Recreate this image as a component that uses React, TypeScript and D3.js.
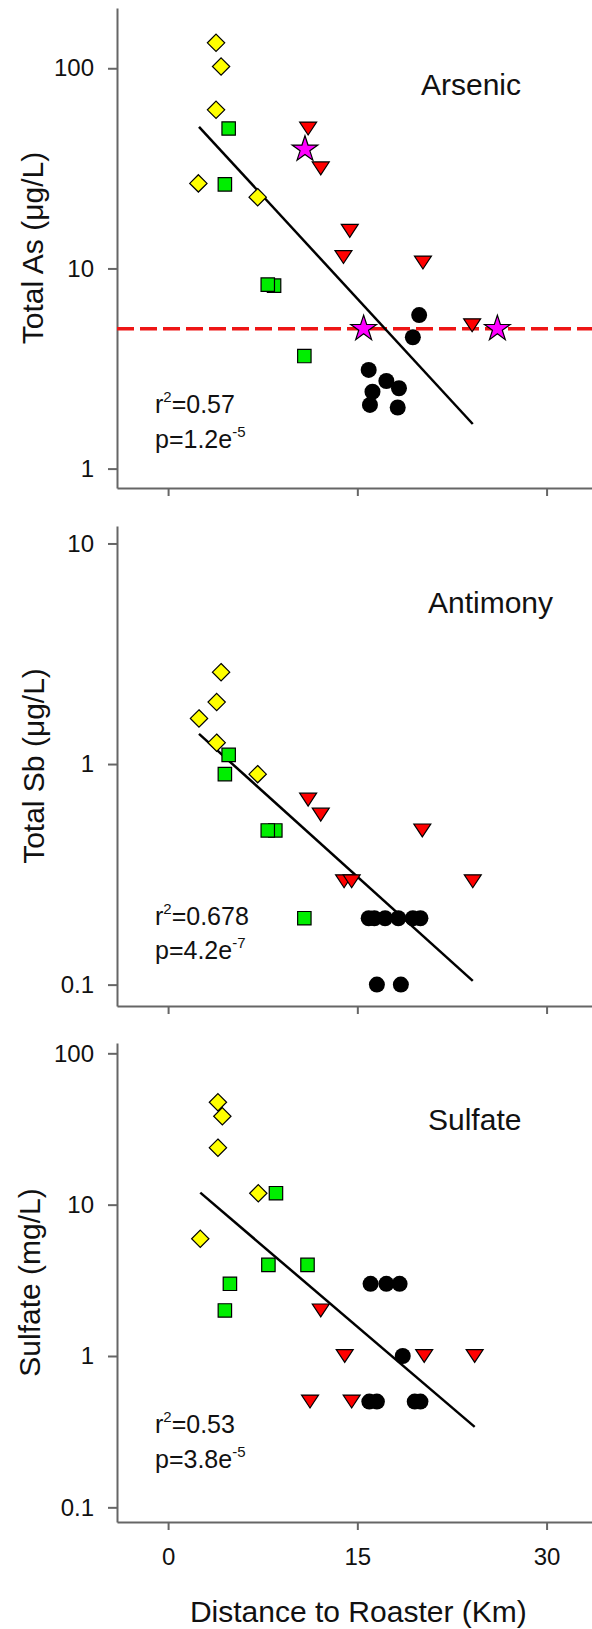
import React, { useRef, useEffect } from "react";
import * as d3 from "d3";

const WIDTH = 592;
const HEIGHT = 1629;
const FONT = "'Liberation Sans', Arial, Helvetica, sans-serif";

// [distance to roaster (km), concentration]
const arsenicYellow = [[3.8, 134], [4.2, 102], [3.8, 62], [2.4, 26.6], [7.1, 22.7]];
const arsenicGreen = [[4.8, 50], [4.5, 26.3], [8.4, 8.2], [7.9, 8.3], [10.8, 3.65]];
const arsenicRed = [[11.1, 50], [12.1, 31.6], [14.4, 15.4], [13.9, 11.4], [20.2, 10.7], [24.1, 5.2]];
const arsenicMagenta = [[10.85, 39.4], [15.5, 5], [26.1, 5]];
const arsenicBlack = [[19.9, 5.85], [19.4, 4.53], [15.9, 3.11], [17.3, 2.74], [16.2, 2.42], [18.3, 2.52], [16.0, 2.08], [18.2, 2.02]];
const arsenicFit = [[2.45, 51], [24.15, 1.67]];
const arsenicLimit = 5;
const arsenicTicks = [1, 10, 100];

const antimonyYellow = [[4.2, 2.61], [3.85, 1.91], [2.45, 1.61], [3.85, 1.25], [7.1, 0.9]];
const antimonyGreen = [[4.8, 1.1], [4.5, 0.9], [8.5, 0.5], [7.9, 0.5], [10.8, 0.2]];
const antimonyRed = [[11.1, 0.69], [12.1, 0.59], [20.15, 0.5], [13.95, 0.294], [14.55, 0.294], [24.15, 0.294]];
const antimonyBlack = [[15.9, 0.2], [16.35, 0.2], [17.2, 0.2], [18.25, 0.2], [19.4, 0.2], [20.0, 0.2], [16.55, 0.1], [18.45, 0.1]];
const antimonyFit = [[2.45, 1.37], [24.15, 0.104]];
const antimonyTicks = [0.1, 1, 10];

const sulfateYellow = [[3.95, 47.5], [4.3, 38.4], [3.95, 23.8], [7.15, 11.9], [2.55, 5.95]];
const sulfateGreen = [[8.55, 11.9], [7.95, 4], [11.05, 4], [4.9, 3], [4.5, 2]];
const sulfateRed = [[12.1, 2], [14.0, 1], [20.3, 1], [24.3, 1], [11.25, 0.5], [14.55, 0.5]];
const sulfateBlack = [[16.05, 3], [17.3, 3], [18.35, 3], [18.6, 1], [15.95, 0.5], [16.55, 0.5], [19.55, 0.5], [20.0, 0.5]];
const sulfateFit = [[2.55, 12], [24.3, 0.34]];
const sulfateTicks = [0.1, 1, 10, 100];

const xTicks = [0, 15, 30];

// custom marker shapes for d3.symbol
const diamondShape = {
  draw(c, s) {
    const r = Math.sqrt(s);
    c.moveTo(0, -r);
    c.lineTo(r, 0);
    c.lineTo(0, r);
    c.lineTo(-r, 0);
    c.closePath();
  },
};
const triangleDown = {
  draw(c, s) {
    const w = Math.sqrt(s);
    const h = w * 0.76;
    c.moveTo(-w, -h);
    c.lineTo(w, -h);
    c.lineTo(0, h);
    c.closePath();
  },
};

const panels = [
  {
    top: 8, bottom: 488, domain: [0.8, 200], ticks: arsenicTicks,
    yTitle: "Total As (\u03bcg/L)", titleX: 43, name: "Arsenic", nameX: 421,
    r2: "=0.57", pBase: "p=1.2e", pExp: "-5", r2y: 413, py: 448,
    yellow: arsenicYellow, green: arsenicGreen, red: arsenicRed, black: arsenicBlack,
    magenta: arsenicMagenta, fit: arsenicFit, limit: arsenicLimit, xLabels: false,
  },
  {
    top: 526, bottom: 1006, domain: [0.08, 12], ticks: antimonyTicks,
    yTitle: "Total Sb (\u03bcg/L)", titleX: 44, name: "Antimony", nameX: 428,
    r2: "=0.678", pBase: "p=4.2e", pExp: "-7", r2y: 925, py: 959,
    yellow: antimonyYellow, green: antimonyGreen, red: antimonyRed, black: antimonyBlack,
    magenta: [], fit: antimonyFit, limit: null, xLabels: false,
  },
  {
    top: 1043, bottom: 1522, domain: [0.08, 117], ticks: sulfateTicks,
    yTitle: "Sulfate (mg/L)", titleX: 40, name: "Sulfate", nameX: 428,
    r2: "=0.53", pBase: "p=3.8e", pExp: "-5", r2y: 1433, py: 1468,
    yellow: sulfateYellow, green: sulfateGreen, red: sulfateRed, black: sulfateBlack,
    magenta: [], fit: sulfateFit, limit: null, xLabels: true,
  },
];

const x = d3.scaleLinear().domain([-4.05, 33.6]).range([117, WIDTH]);

function drawPanel(svg, p) {
  const y = d3.scaleLog().domain(p.domain).range([p.bottom, p.top]);
  const g = svg.append("g");

  const yAxis = g
    .append("g")
    .attr("transform", `translate(${x.range()[0]},0)`)
    .call(
      d3.axisLeft(y).tickValues(p.ticks).tickFormat((d) => String(d))
        .tickSize(9).tickSizeOuter(0).tickPadding(14)
    );
  const xAxis = g
    .append("g")
    .attr("transform", `translate(0,${p.bottom})`)
    .call(
      d3.axisBottom(x).tickValues(xTicks).tickFormat((d) => (p.xLabels ? String(d) : ""))
        .tickSize(8).tickSizeOuter(0).tickPadding(18)
    );
  [yAxis, xAxis].forEach((a) => {
    a.attr("font-family", FONT).attr("font-size", 24);
    a.selectAll(".domain, .tick line").attr("stroke", "#666").attr("stroke-width", 2);
    a.selectAll(".tick text").attr("fill", "#111");
  });

  g.append("text")
    .attr("transform", `translate(${p.titleX},${(p.top + p.bottom) / 2}) rotate(-90)`)
    .attr("text-anchor", "middle")
    .attr("font-family", FONT)
    .attr("font-size", 30)
    .attr("fill", "#111")
    .text(p.yTitle);

  g.append("text")
    .attr("x", p.nameX)
    .attr("y", p.top + 87)
    .attr("font-family", FONT)
    .attr("font-size", 30)
    .attr("fill", "#111")
    .text(p.name);

  const r2 = g.append("text").attr("x", 155).attr("y", p.r2y)
    .attr("font-family", FONT).attr("font-size", 25).attr("fill", "#111");
  r2.append("tspan").text("r");
  r2.append("tspan").attr("font-size", 15).attr("dy", -11).text("2");
  r2.append("tspan").attr("dy", 11).text(p.r2);

  const pv = g.append("text").attr("x", 155).attr("y", p.py)
    .attr("font-family", FONT).attr("font-size", 25).attr("fill", "#111");
  pv.append("tspan").text(p.pBase);
  pv.append("tspan").attr("font-size", 15).attr("dy", -11).text(p.pExp);

  // black circles
  g.append("g")
    .selectAll("circle")
    .data(p.black)
    .join("circle")
    .attr("cx", (d) => x(d[0]))
    .attr("cy", (d) => y(d[1]))
    .attr("r", 8)
    .attr("fill", "#000");

  if (p.limit) {
    g.append("line")
      .attr("x1", x.range()[0])
      .attr("x2", x.range()[1])
      .attr("y1", y(p.limit))
      .attr("y2", y(p.limit))
      .attr("stroke", "#ee1515")
      .attr("stroke-width", 3.5)
      .attr("stroke-dasharray", "17 6");
  }

  const line = d3.line().x((d) => x(d[0])).y((d) => y(d[1]));
  g.append("path")
    .attr("d", line(p.fit))
    .attr("fill", "none")
    .attr("stroke", "#000")
    .attr("stroke-width", 2.5);

  const mark = (data, shape, size, fill) => {
    g.append("g")
      .selectAll("path")
      .data(data)
      .join("path")
      .attr("transform", (d) => `translate(${x(d[0])},${y(d[1])})`)
      .attr("d", d3.symbol(shape, size))
      .attr("fill", fill)
      .attr("stroke", "#000")
      .attr("stroke-width", 1.2);
  };
  mark(p.yellow, diamondShape, 75, "#ffff00");
  mark(p.green, d3.symbolSquare, 180, "#00ee00");
  mark(p.red, triangleDown, 72, "#ff0000");
  mark(p.magenta, d3.symbolStar, 205, "#ff00ff");
}

export default function App() {
  const ref = useRef(null);

  useEffect(() => {
    const svg = d3.select(ref.current);
    svg.selectAll("*").remove();
    panels.forEach((p) => drawPanel(svg, p));
    svg.append("text")
      .attr("x", x(15) + 1)
      .attr("y", 1622)
      .attr("text-anchor", "middle")
      .attr("font-family", FONT)
      .attr("font-size", 30)
      .attr("fill", "#111")
      .text("Distance to Roaster (Km)");
  }, []);

  return (
    <svg
      ref={ref}
      width={WIDTH}
      height={HEIGHT}
      style={{ position: "absolute", left: 0, top: 0, background: "#fff" }}
    />
  );
}
